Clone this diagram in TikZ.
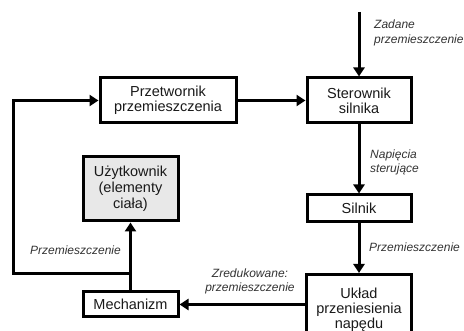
\documentclass[tikz,border=0pt]{standalone}
\usepackage{fontspec}
\setmainfont{Liberation Sans}
\usetikzlibrary{arrows.meta}
\tikzset{
  box/.style={draw=black, line width=3pt, inner sep=0pt, align=center,
    font=\fontsize{14.5}{15}\selectfont, text=black!90},
  lab/.style={font=\fontsize{12}{14.5}\selectfont\itshape, text=black!80, inner sep=0pt},
  conn/.style={line width=3pt, -{Triangle[length=9pt,width=11pt]}},
}
\begin{document}
\begin{tikzpicture}[x=1pt,y=-1pt]
\useasboundingbox (0,0) rectangle (464,331);
\clip (0,0) rectangle (464,331);
\node[box, minimum width=136pt, minimum height=45pt] (P) at (168,100.5) {Przetwornik\\przemieszczenia};
\node[box, minimum width=104pt, minimum height=45pt] (S) at (359,100.5) {Sterownik\\silnika};
\node[box, fill=black!9, minimum width=95pt, minimum height=64pt, font=\fontsize{14.5}{16}\selectfont] (U) at (130.5,189) {Użytkownik\\(elementy\\ciała)};
\node[box, minimum width=104pt, minimum height=27pt] (Si) at (359,208.5) {Silnik};
\node[box, minimum width=105pt, minimum height=70pt, anchor=north] (Uk) at (359,273) {Układ\\przeniesienia\\napędu};
\node[box, minimum width=95pt, minimum height=25pt] (M) at (130.5,304.5) {Mechanizm};
\coordinate (top) at (359,12);
\coordinate (j) at (130.5,274);
\coordinate (c1) at (13,274);
\draw[conn] (top) -- (S.north);
\draw[conn] (P.east) -- (S.west);
\draw[conn] (S.south) -- (Si.north);
\draw[conn] (Si.south) -- (Uk.north);
\draw[conn] (Uk.west |- M.east) -- (M.east);
\draw[conn] (M.north) -- (U.south);
\draw[conn] (j) -- (c1) |- (P.west);
\node[lab, anchor=west, align=left] (l1) at (374,33) {Zadane\\przemieszczenie};
\node[lab, anchor=west, align=left] (l2) at (370,162.5) {Napięcia\\sterujące};
\node[lab, anchor=west] (l3) at (369,247) {Przemieszczenie};
\node[lab] (l4) at (75.5,250) {Przemieszczenie};
\node[lab, align=center] (l5) at (250,281.5) {Zredukowane:\\przemieszczenie};
\end{tikzpicture}
\end{document}
